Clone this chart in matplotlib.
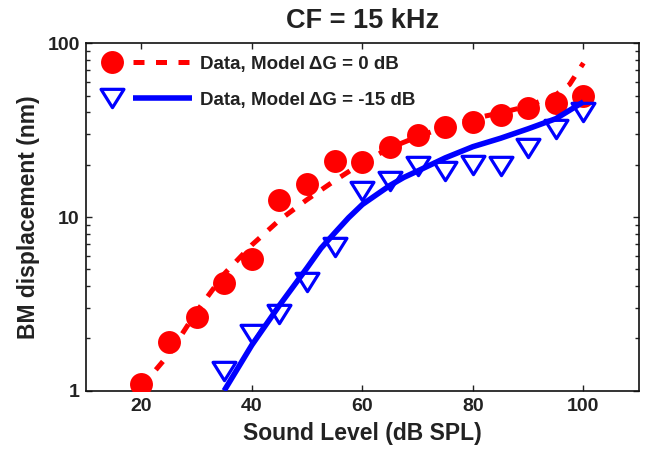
import matplotlib
matplotlib.use("Agg")
import matplotlib.pyplot as plt
from matplotlib.lines import Line2D
from matplotlib.legend_handler import HandlerBase
from matplotlib.path import Path
from matplotlib.ticker import FixedLocator, NullFormatter, NullLocator

plt.rcParams['font.family'] = ['Liberation Sans', 'DejaVu Sans']
plt.rcParams['font.weight'] = 'bold'

# Data
level_data0 = [20, 25, 30, 35, 40, 45, 50, 55, 60, 65, 70, 75, 80, 85, 90, 95, 100]
disp_data0 = [1.10, 1.90, 2.65, 4.15, 5.75, 12.5, 15.4, 21.0, 20.8, 25.4, 29.7, 33.1,
              35.4, 38.7, 42.3, 45.1, 50.0]

level_data15 = [35, 40, 45, 50, 55, 60, 65, 70, 75, 80, 85, 90, 95, 100]
disp_data15 = [1.30, 2.12, 2.77, 4.22, 6.72, 14.2, 16.2, 19.6, 18.3, 19.8, 19.6, 24.9,
               32.2, 40.0]

level_model0 = [20, 25, 30, 35, 40, 45, 50, 55, 60, 65, 70, 75, 80, 85, 90, 95, 97.5, 100]
disp_model0 = [1.05, 1.62, 2.85, 4.7, 6.9, 9.6, 12.6, 16.2, 20.5, 25.0, 29.0, 33.0,
               36.8, 39.8, 43.5, 50.5, 58.0, 77.0]

level_model15 = [35, 40, 45, 50, 52.5, 55, 57.5, 60, 62.5, 65, 67.5, 70, 75, 80, 85, 90,
                 95, 100]
disp_model15 = [1.0, 1.83, 3.1, 5.1, 6.6, 8.1, 9.9, 11.8, 13.4, 15.2, 16.9, 18.4, 21.9,
                25.4, 28.4, 32.2, 36.8, 46.0]

x_ticks = [20, 40, 60, 80, 100]
y_ticks = [1, 10, 100]
y_ticklabels = ['1', '10', '100']
labels = ['Data, Model\u2009\u0394G = 0 dB', 'Data, Model\u2009\u0394G = -15 dB']

TXT = '#222222'
RED = '#ff0000'
BLUE = '#0000ff'

# wide downward triangle, like MATLAB's 'v' marker
tri_down = Path([(-1.0, 0.8), (1.0, 0.8), (0.0, -0.8), (-1.0, 0.8)],
                [Path.MOVETO, Path.LINETO, Path.LINETO, Path.CLOSEPOLY])

fig = plt.figure(figsize=(6.52, 4.51), dpi=100)
ax = fig.add_axes([86/652, 60.3/451, 552.7/652, 347.4/451])

m0, = ax.plot(level_data0, disp_data0, linestyle='none', marker='o', ms=16.5,
              mfc=RED, mec=RED, mew=0, zorder=3)
l0, = ax.plot(level_model0, disp_model0, color=RED, lw=3.6, linestyle=(0, (2.2, 2.3)),
              zorder=4)
m15, = ax.plot(level_data15, disp_data15, linestyle='none', marker=tri_down, ms=16.5,
               mfc='none', mec=BLUE, mew=2.3, zorder=5)
l15, = ax.plot(level_model15, disp_model15, color=BLUE, lw=4.0, solid_capstyle='butt',
               solid_joinstyle='round', zorder=6)

ax.set_yscale('log')
ax.set_xlim(10, 110)
ax.set_ylim(1, 100)
ax.xaxis.set_major_locator(FixedLocator(x_ticks))
ax.xaxis.set_minor_locator(NullLocator())
ax.yaxis.set_major_locator(FixedLocator(y_ticks))
ax.set_yticklabels(y_ticklabels)
ax.yaxis.set_minor_formatter(NullFormatter())
ax.tick_params(which='both', direction='in', top=True, right=True,
               labelsize=14, colors=TXT, width=1.0)
ax.tick_params(axis='x', pad=5)
ax.tick_params(axis='y', pad=4.5)
ax.tick_params(which='major', length=4)
ax.tick_params(which='minor', length=3)
for lab in ax.get_xticklabels() + ax.get_yticklabels():
    lab.set_fontweight('bold')
for s in ax.spines.values():
    s.set_linewidth(1.2)
    s.set_color('#111111')

ax.set_xlabel('Sound Level (dB SPL)', fontsize=16.5, fontweight='bold', color=TXT, labelpad=5)
ax.set_ylabel('BM displacement (nm)', fontsize=16.5, fontweight='bold', color=TXT, labelpad=5)
ax.set_title('CF = 15 kHz', fontsize=19.5, fontweight='bold', color=TXT, pad=10.8)


class MatlabHandler(HandlerBase):
    def create_artists(self, legend, orig_handle, xdescent, ydescent, width, height,
                       fontsize, trans):
        mk, ln = orig_handle
        y = height / 2 - ydescent
        x0 = -xdescent
        m = Line2D([x0 + 0.137 * width], [y])
        m.update_from(mk)
        m.set_linestyle('none')
        l = Line2D([x0 + 0.366 * width, x0 + width], [y, y])
        l.update_from(ln)
        l.set_marker('')
        for a in (m, l):
            a.set_transform(trans)
        return [m, l]


leg = ax.legend([(m0, l0), (m15, l15)], labels,
                handler_map={tuple: MatlabHandler()},
                loc='upper left', bbox_to_anchor=(0.0235, 0.964), frameon=False,
                borderpad=0, borderaxespad=0, handlelength=4.96, handletextpad=0.43,
                labelspacing=1.0, prop={'size': 13.5, 'weight': 'bold'})
for t in leg.get_texts():
    t.set_color(TXT)

fig.savefig('out.png', dpi=100)
